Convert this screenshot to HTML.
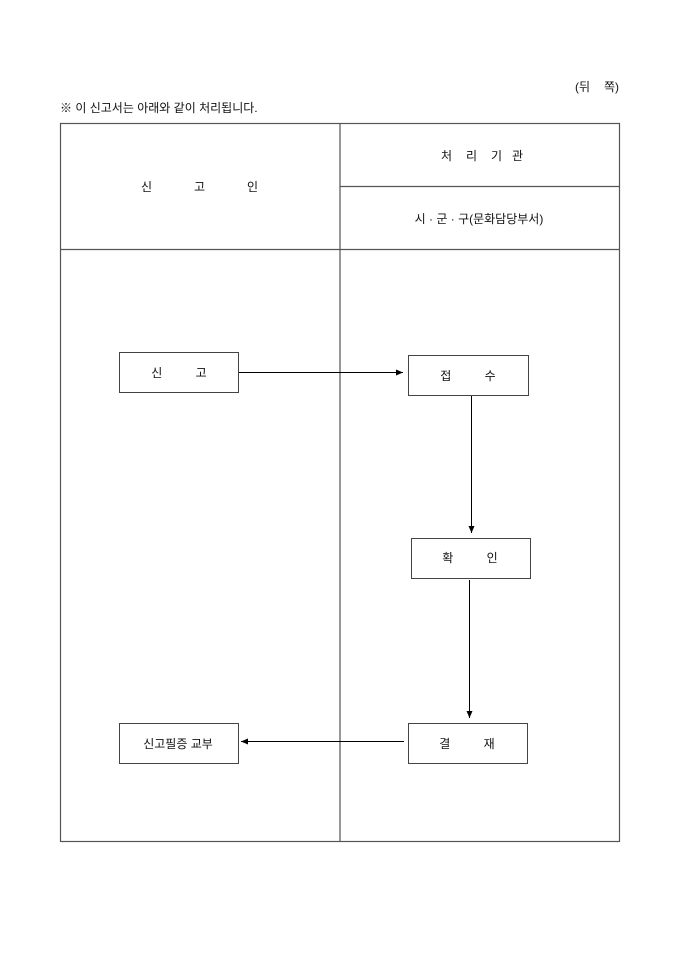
<!DOCTYPE html>
<html><head><meta charset="utf-8"><style>
html,body{margin:0;padding:0;background:#fff}
svg{display:block}
text{font-family:"Liberation Sans","Noto Sans CJK KR","NanumGothic",sans-serif;font-size:12px;fill:#111}
</style></head><body>
<svg width="680" height="962" viewBox="0 0 680 962" xmlns="http://www.w3.org/2000/svg">
<defs><marker id="a" markerWidth="8" markerHeight="8" refX="7" refY="4" orient="auto" markerUnits="userSpaceOnUse"><path d="M0,1 L7,4 L0,7 Z" fill="#000"/></marker></defs>
<text x="575" y="91">(뒤</text><text x="604" y="91">쪽)</text>
<text x="60" y="112">※ 이 신고서는 아래와 같이 처리됩니다.</text>
<g stroke="#555" stroke-width="1.2" fill="none">
<rect x="60.5" y="123.5" width="559" height="718"/>
<line x1="340" y1="123" x2="340" y2="842"/>
<line x1="340" y1="186.5" x2="620" y2="186.5"/>
<line x1="60" y1="249.5" x2="620" y2="249.5"/>
</g>
<text x="441" y="160">처</text><text x="466" y="160">리</text><text x="491" y="160">기</text><text x="512" y="160">관</text>
<text x="479" y="223" text-anchor="middle">시 · 군 · 구(문화담당부서)</text>
<text x="141" y="191">신</text><text x="194" y="191">고</text><text x="247" y="191">인</text>
<g stroke="#444" stroke-width="1" fill="#fff">
<rect x="119.5" y="352.5" width="119" height="40"/>
<rect x="408.5" y="355.5" width="120" height="40"/>
<rect x="411.5" y="538.5" width="119" height="40"/>
<rect x="408.5" y="723.5" width="119" height="40"/>
<rect x="119.5" y="723.5" width="119" height="40"/>
</g>
<g stroke="#000" stroke-width="1" fill="none">
<line x1="239" y1="372.5" x2="403" y2="372.5" marker-end="url(#a)"/>
<line x1="471.5" y1="396" x2="471.5" y2="533" marker-end="url(#a)"/>
<line x1="469.5" y1="580" x2="469.5" y2="718" marker-end="url(#a)"/>
<line x1="404" y1="741.5" x2="241" y2="741.5" marker-end="url(#a)"/>
</g>
<text x="179" y="377" text-anchor="middle" xml:space="preserve">신          고</text>
<text x="468" y="380" text-anchor="middle" xml:space="preserve">접          수</text>
<text x="470" y="562" text-anchor="middle" xml:space="preserve">확          인</text>
<text x="467" y="748" text-anchor="middle" xml:space="preserve">결          재</text>
<text x="178" y="748" text-anchor="middle">신고필증 교부</text>
</svg>
</body></html>
